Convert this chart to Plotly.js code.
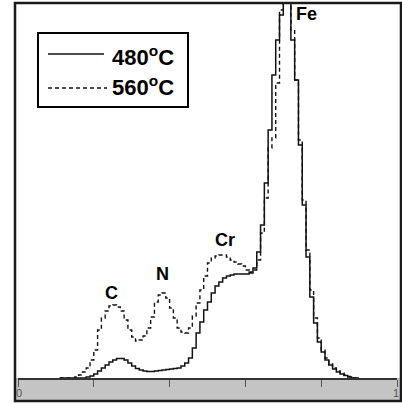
<!DOCTYPE html>
<html>
<head>
<meta charset="utf-8">
<script src="https://cdn.plot.ly/plotly-3.0.1.min.js"></script>
<style>html,body{margin:0;padding:0;background:#fff;}#chart{width:402px;height:404px;}</style>
</head>
<body>
<div id="chart"></div>
<script>
// Position along the profile (0..1)
const xPos = [0.11,0.12,0.13,0.14,0.15,0.16,0.17,0.18,0.19,0.20,
  0.21,0.22,0.23,0.24,0.25,0.26,0.27,0.28,0.29,0.30,
  0.31,0.32,0.33,0.34,0.35,0.36,0.37,0.38,0.39,0.40,
  0.41,0.42,0.43,0.44,0.45,0.46,0.47,0.48,0.49,0.50,
  0.51,0.52,0.53,0.54,0.55,0.56,0.57,0.58,0.59,0.60,
  0.61,0.62,0.63,0.64,0.65,0.66,0.67,0.68,0.69,0.70,
  0.71,0.72,0.73,0.74,0.75,0.76,0.77,0.78,0.79,0.80,
  0.81,0.82,0.83,0.84,0.85,0.86,0.87,0.88,0.89,0.90];

// 480 °C profile (counts, arbitrary units)
const counts480 = [0,0,0,0,0,0,0,1,2,4,
  7,10,13,16,18,19.5,19.5,18,15,12,
  9.5,8,7,6.5,6.5,7,7.5,8,8.5,9,
  9.5,10,12,15,20,30,45,56,68,76,
  85,92,96,100,102,103,104,104,104,104,
  106,110,126,153,195,248,303,338,363,400,
  400,338,298,233,173,121,81,55,36,26,
  18,13,9,6,4,2.5,1,0,0,0];

// 560 °C profile (counts, arbitrary units)
const counts560 = [0,0,0,0,1,3,6,10,18,28,
  48,60,67,72,73,71,67,58,48,41,
  37,38,42,50,61,76,83,85,80,70,
  60,50,46,45,50,62,75,88,102,115,
  120,122,123,123,121,118,116,114,112,108,
  105,108,118,145,180,230,240,295,368,400,
  400,348,298,238,178,128,88,60,40,28,
  20,14,10,7,5,3,1.5,0,0,0];

const seriesNames = ['480<sup>o</sup>C', '560<sup>o</sup>C'];
const peakLabels = ['C', 'N', 'Cr', 'Fe'];
const peakX = [0.248, 0.380, 0.546, 0.7625];
const peakY = [85, 104, 138, 364];
const tickVals = [0, 0.2, 0.4, 0.6, 0.8, 1.0];
const endLabels = ['0', '1'];
const endLabelPx = [19, 396];

// layout geometry helpers (pixel -> paper)
const L = 18, R = 5, T = 4, B = 26, W = 402, H = 404;
const pw = W - L - R, ph = H - T - B;
const px = p => (p - L) / pw;
const py = p => (H - B - p) / ph;

const FONT = 'Liberation Sans, Arial, sans-serif';

const traces = [
  {x: xPos, y: counts480, type: 'scatter', mode: 'lines', name: seriesNames[0],
   line: {shape: 'hv', color: '#111', width: 1.5}, showlegend: false, hoverinfo: 'skip'},
  {x: xPos, y: counts560, type: 'scatter', mode: 'lines', name: seriesNames[1],
   line: {shape: 'hv', color: '#111', width: 1.4, dash: '4px,3px'}, showlegend: false, hoverinfo: 'skip'}
];

const annotations = peakLabels.map((t, i) => ({
  x: peakX[i], y: peakY[i], xref: 'x', yref: 'y', text: '<b>' + t + '</b>',
  showarrow: false, font: {family: FONT, size: 18, color: '#000'}
}));
annotations.push(
  {x: px(110), y: py(56), xref: 'paper', yref: 'paper', xanchor: 'left', yanchor: 'middle',
   text: '<b>' + seriesNames[0] + '</b>', showarrow: false, font: {family: FONT, size: 22, color: '#000'}},
  {x: px(110), y: py(86), xref: 'paper', yref: 'paper', xanchor: 'left', yanchor: 'middle',
   text: '<b>' + seriesNames[1] + '</b>', showarrow: false, font: {family: FONT, size: 22, color: '#000'}}
);
endLabels.forEach((t, i) => annotations.push({
  x: px(endLabelPx[i]), y: py(393), xref: 'paper', yref: 'paper', xanchor: 'center', yanchor: 'middle',
  text: t, showarrow: false, font: {family: FONT, size: 11, color: '#555'}
}));

const shapes = [
  // grey strip under axis
  {type: 'rect', xref: 'paper', yref: 'paper', x0: px(15), x1: px(401), y0: py(401), y1: py(378),
   fillcolor: '#c4c4c4', line: {width: 0}, layer: 'below'},
  // outer frame
  {type: 'rect', xref: 'paper', yref: 'paper', x0: px(15), x1: px(401), y0: py(401), y1: py(3),
   line: {color: '#1a1a1a', width: 2.5}, fillcolor: 'rgba(0,0,0,0)'},
  // legend box
  {type: 'rect', xref: 'paper', yref: 'paper', x0: px(38), x1: px(188), y0: py(107), y1: py(33),
   line: {color: '#000', width: 2}, fillcolor: '#fff'},
  // legend samples
  {type: 'line', xref: 'paper', yref: 'paper', x0: px(48), x1: px(104), y0: py(54), y1: py(54),
   line: {color: '#111', width: 1.5}},
  {type: 'line', xref: 'paper', yref: 'paper', x0: px(48), x1: px(107), y0: py(88), y1: py(88),
   line: {color: '#111', width: 1.5, dash: '4px,3px'}}
];

const layout = {
  width: W, height: H,
  margin: {l: L, r: R, t: T, b: B, pad: 0},
  paper_bgcolor: '#fff', plot_bgcolor: '#fff',
  showlegend: false,
  xaxis: {range: [0, 1], showgrid: false, zeroline: false, showline: true, linecolor: '#333', linewidth: 2,
    ticks: 'outside', ticklen: 7, tickwidth: 1, tickcolor: '#555',
    tickmode: 'array', tickvals: tickVals, showticklabels: false, fixedrange: true},
  yaxis: {range: [0, ph], showgrid: false, zeroline: false, showline: false, showticklabels: false, ticks: '', fixedrange: true},
  shapes: shapes,
  annotations: annotations
};

Plotly.newPlot('chart', traces, layout, {staticPlot: true, displayModeBar: false});
</script>
</body>
</html>
